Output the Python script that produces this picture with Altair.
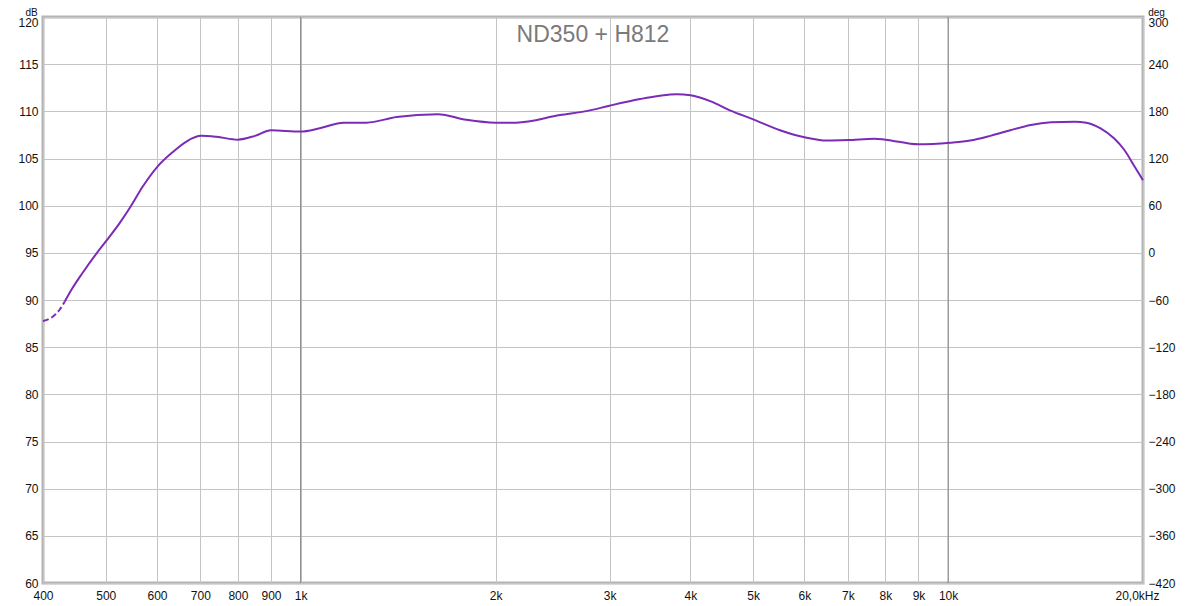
import altair as alt
import pandas as pd

# ---- data ----
freq = [400, 414, 424, 432, 444, 460, 484, 503, 525, 547, 570, 602, 635, 666, 702,
        741, 800, 850, 900, 1000, 1070, 1165, 1264, 1406, 1630, 1803, 2000, 2153,
        2515, 2796, 3000, 3344, 3590, 3808, 4000, 4300, 4603, 5000, 5500, 6000, 6500,
        7000, 7700, 8000, 9000, 10070, 10815, 11620, 12480, 13420, 14420, 15700,
        16350, 17200, 18040, 18720, 19430, 20000]
db = [87.77, 88.23, 88.94, 89.82, 91.24, 92.83, 94.95, 96.43, 98.13, 99.96, 102.0,
      104.2, 105.7, 106.8, 107.4, 107.3, 107.0, 107.4, 108.0, 107.85, 108.2, 108.8,
      108.8, 109.4, 109.7, 109.1, 108.8, 108.8, 109.6, 110.1, 110.6, 111.3, 111.65,
      111.8, 111.7, 111.05, 110.1, 109.15, 108.0, 107.25, 106.9, 106.95, 107.1, 107.0,
      106.5, 106.67, 106.9, 107.4, 108.0, 108.55, 108.83, 108.9, 108.8, 108.2, 107.14,
      105.9, 104.1, 102.7]
dashed_until = 432

title_text = ["ND350 + H812"]
db_ticks = [60, 65, 70, 75, 80, 85, 90, 95, 100, 105, 110, 115, 120]
deg_ticks = [-420, -360, -300, -240, -180, -120, -60, 0, 60, 120, 180, 240, 300]
x_ticks = [400, 500, 600, 700, 800, 900, 1000, 2000, 3000, 4000, 5000, 6000, 7000,
           8000, 9000, 10000, 20000]
major_lines = [1000, 10000]

df = pd.DataFrame({"freq": freq, "db": db})
dash_df = df[df["freq"] <= dashed_until]
solid_df = df[df["freq"] >= dashed_until]

xscale = alt.Scale(type="log", domain=[400, 20000], nice=False)
yscale = alt.Scale(domain=[60, 120], nice=False, zero=False)
LINE = "#7b2cb6"

x_axis = alt.Axis(
    values=x_ticks,
    labelExpr="datum.value >= 20000 ? '20,0kHz' : (datum.value >= 1000 ? (datum.value/1000) + 'k' : '' + datum.value)",
    labelOffset={"expr": "datum.value >= 20000 ? -6 : 0"},
    labelOverlap=False, labelFlush=False, labelPadding=7,
    grid=True, gridColor="#c4c4c4", gridWidth=1,
    ticks=False, domain=False, title=None,
)
y_axis = alt.Axis(
    values=db_ticks, grid=True, gridColor="#c4c4c4", gridWidth=1,
    ticks=False, domain=False, labelPadding=5,
    labelOffset={"expr": "datum.value >= 120 ? 5 : 0"},
    title="dB", titleAngle=0, titleX=-12, titleY=-1.5,
    titleAlign="center", titleBaseline="alphabetic",
)

X = alt.X("freq:Q", scale=xscale, axis=x_axis)
Y = alt.Y("db:Q", scale=yscale, axis=y_axis)

major = alt.Chart(pd.DataFrame({"freq": major_lines})).mark_rule(color="#808080", strokeWidth=1).encode(x=X)

dashed = alt.Chart(dash_df).mark_line(color=LINE, strokeWidth=2, strokeDash=[6, 3], interpolate="monotone").encode(x=X, y=Y)
solid = alt.Chart(solid_df).mark_line(color=LINE, strokeWidth=2, interpolate="monotone").encode(x=X, y=Y)

title = alt.Chart(pd.DataFrame({"t": title_text})).mark_text(
    fontSize=23, color="#7a7a7a", font="Liberation Sans", align="center", baseline="alphabetic"
).encode(x=alt.value(550), y=alt.value(25), text="t:N")

left = alt.layer(major, dashed, solid, title)

right = alt.Chart(pd.DataFrame({"deg": deg_ticks})).mark_point(opacity=0).encode(
    y=alt.Y("deg:Q", scale=alt.Scale(domain=[-420, 300], nice=False, zero=False),
            axis=alt.Axis(orient="right", values=deg_ticks, grid=False, ticks=False, domain=False,
                          labelPadding=5, labelOffset={"expr": "datum.value >= 300 ? 5 : 0"},
                          title="deg", titleAngle=0, titleX=13, titleY=-1.5,
                          titleAlign="center", titleBaseline="alphabetic")),
)

chart = alt.layer(left, right).resolve_scale(y="independent").properties(
    width=1100, height=566,
    autosize=alt.AutoSizeParams(type="none"),
    padding={"left": 35, "top": 9, "right": 41, "bottom": 20},
    background="white",
).configure_view(
    stroke="#b4b4b4", strokeWidth=3,
).configure_axis(
    labelFont="Liberation Sans", labelFontSize=12, labelColor="#111111",
    titleFont="Liberation Sans", titleFontSize=10, titleFontWeight="normal", titleColor="#111111",
)

chart.save("out.html", embed_options={"renderer": "svg", "actions": False})
